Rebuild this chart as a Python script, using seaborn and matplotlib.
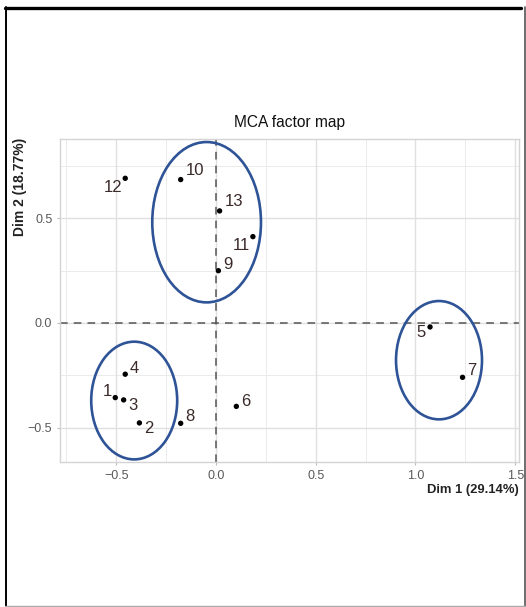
import numpy as np
import pandas as pd
import matplotlib
matplotlib.use("Agg")
import matplotlib.pyplot as plt
from matplotlib.patches import Ellipse
from matplotlib.lines import Line2D
import seaborn as sns

# ---- data ----
labels = ["1", "2", "3", "4", "5", "6", "7", "8", "9", "10", "11", "12", "13"]
dim1 = [-0.505, -0.384, -0.463, -0.455, 1.073, 0.102, 1.236, -0.177, 0.012, -0.177, 0.185, -0.455, 0.018]
dim2 = [-0.357, -0.478, -0.368, -0.245, -0.019, -0.399, -0.260, -0.480, 0.250, 0.686, 0.413, 0.692, 0.536]
# label offsets (pixels) as placed by the repel algorithm
label_dx = [-8, 9, 9, 9, -9, 9, 9, 9, 10, 14, -12, -12, 14]
label_dy = [6, -6, -6, 6, -6, 5, 7, 7, 6, 9, -9, -9, 9]

# group ellipses: centre x, centre y, width, height (data units)
ell_cx = [-0.047, -0.410, 1.118]
ell_cy = [0.482, -0.371, -0.178]
ell_w = [0.545, 0.431, 0.431]
ell_h = [0.767, 0.563, 0.566]

xticks = [-0.5, 0.0, 0.5, 1.0, 1.5]
yticks = [-0.5, 0.0, 0.5]

df = pd.DataFrame({"Dim1": dim1, "Dim2": dim2, "label": labels})

sns.set_theme(style="white")
plt.rcParams["font.family"] = ["Liberation Sans", "DejaVu Sans"]

fig = plt.figure(figsize=(5.26, 6.07), dpi=100)
ax = fig.add_axes([60 / 526, 1 - 462 / 607, (519 - 60) / 526, (462 - 139) / 607])

ax.set_xlim(-0.782, 1.519)
ax.set_ylim(-0.665, 0.880)

# grid
for v in [-0.75, -0.25, 0.25, 0.75, 1.25]:
    ax.axvline(v, color="#EBEBEB", lw=0.7, zorder=0)
for v in [-0.25, 0.25, 0.75]:
    ax.axhline(v, color="#EBEBEB", lw=0.7, zorder=0)
for v in xticks:
    ax.axvline(v, color="#E0E0E0", lw=1.0, zorder=0)
for v in yticks:
    ax.axhline(v, color="#E0E0E0", lw=1.0, zorder=0)

ax.axvline(0, color="#555555", lw=1.1, ls=(0, (5, 4)), zorder=1)
ax.axhline(0, color="#555555", lw=1.1, ls=(0, (5, 4)), zorder=1)

sns.scatterplot(data=df, x="Dim1", y="Dim2", ax=ax, color="black", s=15,
                edgecolor="none", zorder=3, legend=False)

for lab, x, y, dx, dy in zip(labels, dim1, dim2, label_dx, label_dy):
    ax.annotate(lab, (x, y), xytext=(dx * 0.72, dy * 0.72), textcoords="offset points",
                ha="center", va="center", fontsize=12, color="#3A2A2A", zorder=4)

for cx, cy, w, h in zip(ell_cx, ell_cy, ell_w, ell_h):
    ax.add_patch(Ellipse((cx, cy), w, h, fill=False, edgecolor="#2E5396", lw=1.9, zorder=2))

ax.set_xticks(xticks)
ax.set_yticks(yticks)
ax.set_xticklabels(["\u22120.5", "0.0", "0.5", "1.0", "1.5"])
ax.set_yticklabels(["\u22120.5", "0.0", "0.5"])
ax.tick_params(axis="both", labelsize=9, labelcolor="#5A5A5A", length=2.5, width=0.8,
               color="#BBBBBB", pad=3, bottom=True, left=True)
ax.grid(False)
for s in ax.spines.values():
    s.set_color("#D4D4D4")
    s.set_linewidth(1.0)

ax.set_xlabel("")
ax.set_ylabel("")
fig.text(519 / 526, 1 - 490 / 607, "Dim 1 (29.14%)", ha="right", va="center",
         fontsize=9.4, fontweight="bold", color="#222222")
fig.text(20 / 526, 1 - 138 / 607, "Dim 2 (18.77%)", ha="center", va="top", rotation=90,
         fontsize=10, fontweight="bold", color="#222222")
fig.text(289.5 / 526, 1 - 123 / 607, "MCA factor map", ha="center", va="center",
         fontsize=11.2, color="#111111")

# outer frame of the screenshot
fig.add_artist(Line2D([5 / 526, 521 / 526], [1 - 8 / 607] * 2, color="black", lw=2.4,
                      transform=fig.transFigure))
fig.add_artist(Line2D([5.8 / 526] * 2, [1 - 7 / 607, 0], color="black", lw=1.4,
                      transform=fig.transFigure))
fig.add_artist(Line2D([524.5 / 526] * 2, [1 - 7 / 607, 0], color="#555555", lw=1.2,
                      transform=fig.transFigure))
fig.add_artist(Line2D([5 / 526, 1], [0.6 / 607] * 2, color="#AAAAAA", lw=1.0,
                      transform=fig.transFigure))

fig.savefig("out.png", dpi=100)
